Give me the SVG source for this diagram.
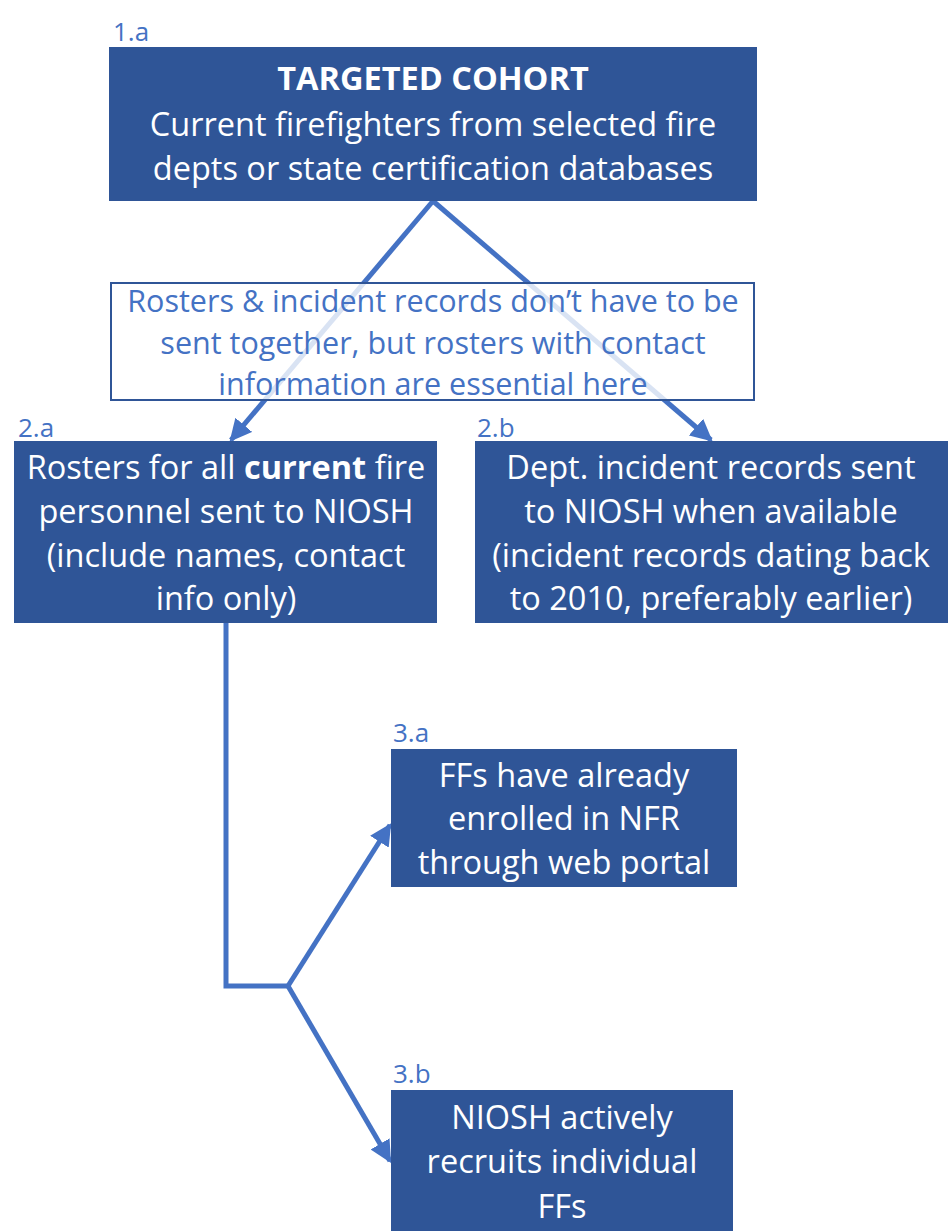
<svg xmlns="http://www.w3.org/2000/svg" width="948" height="1231" viewBox="0 0 948 1231">
<defs>
<style>
.box{fill:#2F5597;}
.t{font-family:"Open Sans","Liberation Sans",sans-serif;font-size:32.5px;fill:#FFFFFF;text-anchor:middle;}
.lbl{font-family:"Open Sans","Liberation Sans",sans-serif;font-size:26px;fill:#4472C4;}
.note{font-family:"Open Sans","Liberation Sans",sans-serif;font-size:30.5px;fill:#4472C4;text-anchor:middle;}
.ln{fill:none;stroke:#4472C4;stroke-width:5;}
</style>
<marker id="ah" viewBox="0 0 10 10" refX="9" refY="5" markerWidth="4.4" markerHeight="4.4" orient="auto" markerUnits="strokeWidth">
<path d="M0,0 L10,5 L0,10 z" fill="#4472C4"/>
</marker>
</defs>
<rect width="948" height="1231" fill="#FFFFFF"/>
<g id="connectors">
<line class="ln" x1="433" y1="201" x2="231" y2="440" marker-end="url(#ah)"/>
<line class="ln" x1="433" y1="201" x2="711" y2="440" marker-end="url(#ah)"/>
<polyline class="ln" points="226,623 226,986 288,986"/>
<line class="ln" x1="288" y1="986" x2="390" y2="825" marker-end="url(#ah)"/>
<line class="ln" x1="288" y1="986" x2="390" y2="1161" marker-end="url(#ah)"/>
</g>
<g id="node-note">
<rect x="111" y="283" width="643" height="117" fill="#FFFFFF" fill-opacity="0.8" stroke="#2F5597" stroke-width="2"/>
<text class="note" x="433" y="312">Rosters &amp; incident records don’t have to be</text>
<text class="note" x="433" y="354">sent together, but rosters with contact</text>
<text class="note" x="433" y="395">information are essential here</text>
</g>
<g id="node-1a">
<text class="lbl" x="113" y="41">1.a</text>
<rect class="box" x="109" y="47" width="648" height="154"/>
<text class="t" x="433" y="90" font-weight="bold">TARGETED COHORT</text>
<text class="t" x="433" y="136">Current firefighters from selected fire</text>
<text class="t" x="433" y="180">depts or state certification databases</text>
</g>
<g id="node-2a">
<text class="lbl" x="18" y="437">2.a</text>
<rect class="box" x="14" y="441" width="423" height="182"/>
<text class="t" x="226" y="479">Rosters for all <tspan font-weight="bold">current</tspan> fire</text>
<text class="t" x="226" y="523">personnel sent to NIOSH</text>
<text class="t" x="226" y="567">(include names, contact</text>
<text class="t" x="226" y="610">info only)</text>
</g>
<g id="node-2b">
<text class="lbl" x="477" y="437">2.b</text>
<rect class="box" x="475" y="441" width="473" height="182"/>
<text class="t" x="711" y="479">Dept. incident records sent</text>
<text class="t" x="711" y="523">to NIOSH when available</text>
<text class="t" x="711" y="567">(incident records dating back</text>
<text class="t" x="711" y="610">to 2010, preferably earlier)</text>
</g>
<g id="node-3a">
<text class="lbl" x="393" y="742">3.a</text>
<rect class="box" x="391" y="749" width="346" height="138"/>
<text class="t" x="564" y="787">FFs have already</text>
<text class="t" x="564" y="830">enrolled in NFR</text>
<text class="t" x="564" y="874">through web portal</text>
</g>
<g id="node-3b">
<text class="lbl" x="393" y="1083">3.b</text>
<rect class="box" x="391" y="1090" width="342" height="141"/>
<text class="t" x="562" y="1129">NIOSH actively</text>
<text class="t" x="562" y="1173">recruits individual</text>
<text class="t" x="562" y="1218">FFs</text>
</g>
</svg>
